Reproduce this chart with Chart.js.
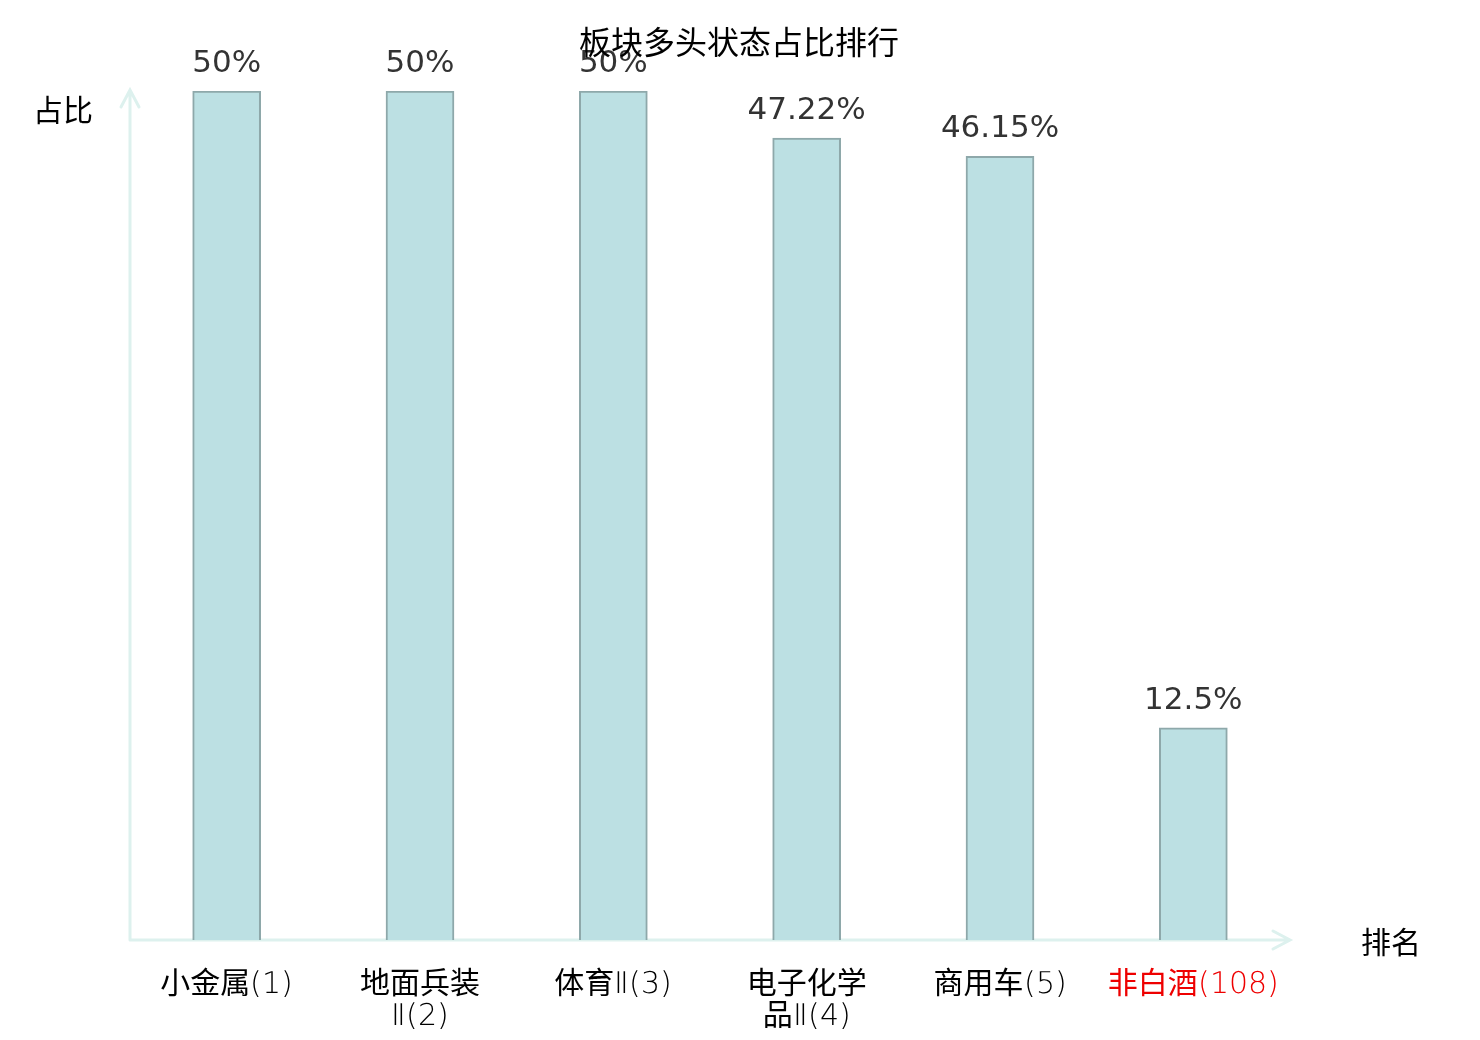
<!DOCTYPE html>
<html lang="zh">
<head>
<meta charset="utf-8">
<title>板块多头状态占比排行</title>
<script src="https://cdn.jsdelivr.net/npm/chart.js@4/dist/chart.umd.min.js"></script>
<style>
	@font-face {
		font-family: "TickLatin";
		src: local("DejaVu Sans ExtraLight"), local("DejaVuSans-ExtraLight");
	}
	body { margin: 0; background: #fff; }
	#wrap { width: 1480px; height: 1040px; }
</style>
</head>
<body>
<div id="wrap"><canvas id="c" width="1480" height="1040"></canvas></div>
<script>
// data
var categories = [["小金属(1)"], ["地面兵装", "Ⅱ(2)"], ["体育Ⅱ(3)"], ["电子化学", "品Ⅱ(4)"], ["商用车(5)"], ["非白酒(108)"]];
var ratios = [50, 50, 50, 47.22, 46.15, 12.5];
var labelColors = ["#000", "#000", "#000", "#000", "#000", "#ee0000"];

var titleText = "板块多头状态占比排行";
var yName = "占比";
var xName = "排名";

var axisColor = "#ddf1ee";
var cjk = "'Noto Sans CJK SC', 'DejaVu Sans', sans-serif";
var latin = "'DejaVu Sans', 'Noto Sans CJK SC', sans-serif";
var tickFamily = "TickLatin, 'Noto Sans CJK SC', sans-serif";

// axes with arrows, axis names, title
var decor = {
	id: "decor",
	beforeDatasetsDraw: function(chart){
		var ctx = chart.ctx, a = chart.chartArea;
		ctx.save();
		ctx.strokeStyle = axisColor;
		ctx.lineWidth = 3;
		ctx.lineCap = "round";
		ctx.beginPath();
		ctx.moveTo(a.left, a.bottom);
		ctx.lineTo(a.left, a.top - 1);
		ctx.moveTo(a.left - 9, a.top + 16);
		ctx.lineTo(a.left, a.top - 1);
		ctx.lineTo(a.left + 9, a.top + 16);
		ctx.moveTo(a.left, a.bottom);
		ctx.lineTo(a.right, a.bottom);
		ctx.moveTo(a.right - 17, a.bottom - 9);
		ctx.lineTo(a.right, a.bottom);
		ctx.lineTo(a.right - 17, a.bottom + 9);
		ctx.stroke();
		ctx.restore();
	},
	afterDraw: function(chart){
		var ctx = chart.ctx, a = chart.chartArea;
		ctx.save();
		ctx.fillStyle = "#333";
		ctx.font = "31px " + latin;
		ctx.textAlign = "center";
		ctx.textBaseline = "alphabetic";
		var meta = chart.getDatasetMeta(0);
		meta.data.forEach(function(bar, i){
			ctx.fillText(ratios[i] + "%", bar.x, bar.y - 19);
		});
		ctx.fillStyle = "#000";
		ctx.font = "30px " + cjk;
		ctx.textBaseline = "middle";
		ctx.fillText(yName, 63, a.top + 19);
		ctx.fillText(xName, 1391, a.bottom + 2);
		ctx.font = "32px " + cjk;
		ctx.fillText(titleText, 739, 42);
		ctx.restore();
	}
};

function draw(){
	new Chart(document.getElementById("c"), {
		type: "bar",
		data: {
			labels: categories,
			datasets: [{
				data: ratios,
				backgroundColor: "#bce0e3",
				borderColor: "#8ea8aa",
				borderWidth: 2,
				barThickness: 68
			}]
		},
		options: {
			responsive: false,
			devicePixelRatio: 1,
			animation: false,
			layout: { padding: { left: 130, right: 190, top: 91, bottom: 0 } },
			plugins: { legend: { display: false }, tooltip: { enabled: false }, title: { display: false } },
			scales: {
				x: {
					offset: true,
					grid: { display: false },
					border: { display: false },
					ticks: {
						autoSkip: false,
						maxRotation: 0,
						padding: 21,
						font: { size: 30, family: tickFamily, lineHeight: 1.07 },
						color: function(c){ return labelColors[c.index]; }
					},
					afterFit: function(scale){ scale.height = 100; }
				},
				y: {
					display: false,
					min: 0,
					max: 50
				}
			}
		},
		plugins: [decor]
	});
}

document.fonts.load("30px TickLatin", "(1)").then(draw, draw);
</script>
</body>
</html>
